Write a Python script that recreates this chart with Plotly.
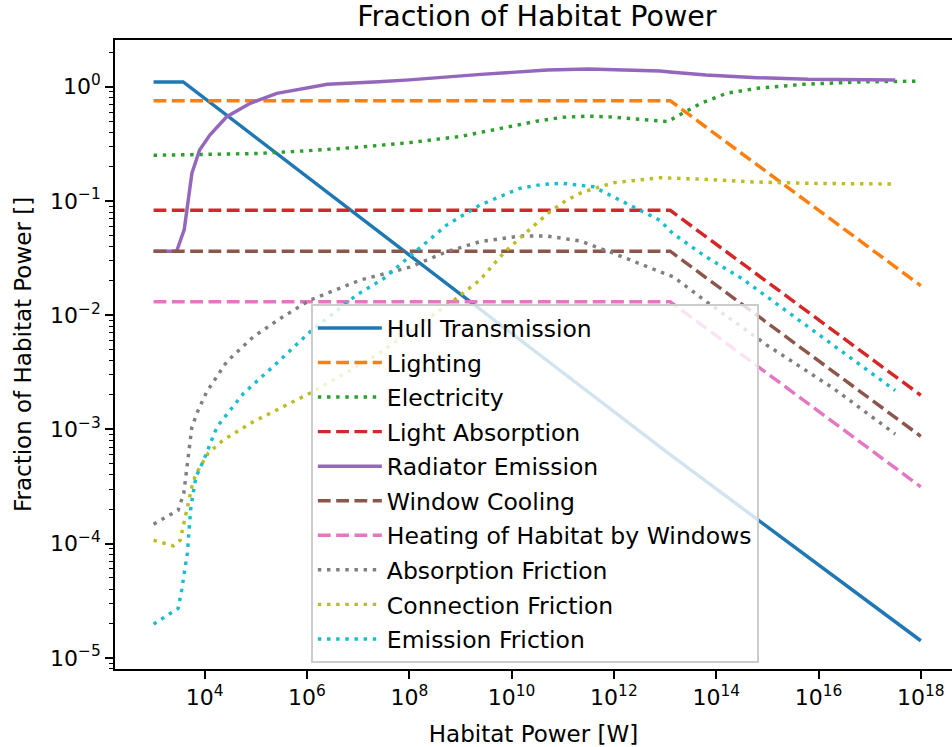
import plotly.graph_objects as go

# ---------------- data ----------------
hull_power = [1e3, 3.16e3, 3.8e3, 1.26e13, 1e18]
hull_frac = [1.10, 1.10, 1.10, 6.0e-4, 1.41e-5]

flat_power = [1e3, 1.26e13, 1e18]
lighting_frac = [0.755, 0.755, 0.0181]
light_abs_frac = [0.0828, 0.0828, 0.00199]
window_cool_frac = [0.0363, 0.0363, 8.7e-4]
heating_frac = [0.0131, 0.0131, 3.14e-4]

elec_power = [1e3, 1e4, 1e5, 1e6, 1e7, 1e8, 3.16e8, 1e9, 3.16e9, 1e10, 3.16e10,
              1e11, 3.16e11, 1e12, 3.16e12, 1.15e13, 1.26e13, 2.51e13, 5.01e13,
              1.58e14, 6.31e14, 5.01e15, 6.31e16, 1e18]
elec_frac = [0.251, 0.254, 0.260, 0.275, 0.295, 0.324, 0.343, 0.367, 0.407, 0.452, 0.50,
             0.540, 0.553, 0.542, 0.521, 0.494, 0.51, 0.604, 0.716,
             0.875, 0.968, 1.05, 1.10, 1.12]

rad_power = [1e3, 2.82e3, 3.98e3, 5.62e3, 7.94e3, 1.26e4, 2.69e4, 7.76e4, 2.57e5, 1e6,
             2.51e6, 2.51e7, 1e8, 2.51e9, 5.01e10, 3.16e11, 7.94e12, 1.41e13, 6.31e13,
             6.31e14, 6.31e15, 3.16e17]
rad_frac = [0.0363, 0.0363, 0.0562, 0.175, 0.279, 0.378, 0.546, 0.716, 0.875, 0.977,
            1.05, 1.107, 1.148, 1.282, 1.40, 1.429, 1.371, 1.337, 1.265,
            1.20, 1.161, 1.146]

abs_fr_power = [1e3, 3.02e3, 3.89e3, 4.79e3, 5.62e3, 7.5e3, 1.1e4, 2.69e4, 8.91e4, 3.16e5,
                1.15e6, 1.1e7, 1.02e8, 5.37e8, 2.4e9, 1.45e10, 4.9e10, 2.19e11, 9.77e11,
                7.94e12, 1.45e13, 6.46e13, 9.77e14, 1.95e16, 3.16e17]
abs_fr_frac = [1.48e-4, 1.96e-4, 2.75e-4, 5.75e-4, 1.054e-3, 1.48e-3, 2.14e-3, 3.91e-3, 6.46e-3, 9.5e-3,
               0.01355, 0.0203, 0.0263, 0.0359, 0.0440, 0.0493, 0.0493, 0.0446, 0.0348,
               0.0240, 0.0217, 0.0131, 5.47e-3, 2.29e-3, 9.1e-4]

con_fr_power = [1e3, 2.45e3, 3.31e3, 3.89e3, 4.79e3, 5.62e3, 6.46e3, 7.5e3, 1.17e4, 2.29e4,
                8.91e4, 3.98e5, 1.32e6, 2.29e7, 1e8, 7.94e8, 2.4e9, 6.92e9, 1.7e10, 5.62e10,
                1.2e11, 2.51e11, 1e12, 7.94e12, 6.31e13, 4.47e14, 5.89e15, 3.16e17]
con_fr_frac = [1.07e-4, 9.55e-5, 1.07e-4, 1.51e-4, 2.19e-4, 3.16e-4, 3.85e-4, 4.41e-4, 6.17e-4, 8.05e-4,
               1.167e-3, 1.633e-3, 2.14e-3, 4.47e-3, 7.16e-3, 0.0138, 0.0203, 0.0348, 0.0504, 0.0804,
               0.1019, 0.120, 0.1445, 0.1596, 0.1545, 0.147, 0.1426, 0.1406]

em_fr_power = [1e3, 3.02e3, 3.55e3, 4.57e3, 5.37e3, 6.76e3, 9.33e3, 1.74e4, 5.75e4, 2.57e5,
               1.15e6, 9.33e6, 3.16e7, 1.2e8, 5.37e8, 2.4e9, 1.45e10, 3.98e10, 1e11, 3.98e11,
               1.78e12, 7.94e12, 1.41e13, 6.31e13, 3.16e14, 1.32e15, 3.16e17]
em_fr_frac = [1.97e-5, 2.71e-5, 3.92e-5, 8.2e-5, 2.10e-4, 3.85e-4, 5.25e-4, 1.054e-3, 2.07e-3, 3.80e-3,
              7.16e-3, 0.0150, 0.0209, 0.0347, 0.0615, 0.092, 0.129, 0.1396, 0.1426, 0.133,
              0.0953, 0.0676, 0.052, 0.0324, 0.021, 0.0131, 2.19e-3]

x_tick_vals = [1e4, 1e6, 1e8, 1e10, 1e12, 1e14, 1e16, 1e18]
x_tick_text = ["10<sup>4</sup>", "10<sup>6</sup>", "10<sup>8</sup>", "10<sup>10</sup>",
               "10<sup>12</sup>", "10<sup>14</sup>", "10<sup>16</sup>", "10<sup>18</sup>"]
y_tick_vals = [1e-5, 1e-4, 1e-3, 1e-2, 1e-1, 1e0]
y_tick_text = ["10<sup>\u22125</sup>", "10<sup>\u22124</sup>", "10<sup>\u22123</sup>",
               "10<sup>\u22122</sup>", "10<sup>\u22121</sup>", "10<sup>0</sup>"]

# ---------------- styling ----------------
FONT = "DejaVu Sans"
LW = 3.45
DASH = "12.8px,5.5px"
DOT = "3.45px,5.7px"

series = [
    ("Hull Transmission", hull_power, hull_frac, "#1f77b4", "solid"),
    ("Lighting", flat_power, lighting_frac, "#ff7f0e", DASH),
    ("Electricity", elec_power, elec_frac, "#2ca02c", DOT),
    ("Light Absorption", flat_power, light_abs_frac, "#d62728", DASH),
    ("Radiator Emission", rad_power, rad_frac, "#9467bd", "solid"),
    ("Window Cooling", flat_power, window_cool_frac, "#8c564b", DASH),
    ("Heating of Habitat by Windows", flat_power, heating_frac, "#e377c2", DASH),
    ("Absorption Friction", abs_fr_power, abs_fr_frac, "#7f7f7f", DOT),
    ("Connection Friction", con_fr_power, con_fr_frac, "#bcbd22", DOT),
    ("Emission Friction", em_fr_power, em_fr_frac, "#17becf", DOT),
]

fig = go.Figure()
for i, (name, xs, ys, color, dash) in enumerate(series):
    fig.add_trace(go.Scatter(
        x=xs, y=ys, mode="lines", name=name, legendgroup=f"g{i}",
        line=dict(color=color, width=LW, dash=dash), hoverinfo="skip",
    ))

minor_y = [m * 10.0 ** e for e in range(-6, 1) for m in range(2, 10)]

W, H = 952, 747
fig.update_layout(
    width=W, height=H,
    margin=dict(l=115, r=0, t=40, b=78, autoexpand=False),
    paper_bgcolor="white", plot_bgcolor="white",
    font=dict(family=FONT, size=22, color="black"),
    title=dict(text="Fraction of Habitat Power", font=dict(size=28.5, family=FONT, color="black"),
               x=0.504, xref="paper", xanchor="center",
               y=1 - 16 / H, yref="container", yanchor="middle"),
    showlegend=True,
    legend=dict(
        x=0.234, y=0.58, xanchor="left", yanchor="top",
        bgcolor="rgba(255,255,255,0.8)", bordercolor="#cccccc", borderwidth=2,
        font=dict(family=FONT, size=23.5, color="black"),
        traceorder="grouped", tracegroupgap=1.0, itemwidth=64,
    ),
    xaxis=dict(
        type="log", range=[2.246, 18.61], automargin=False,
        tickmode="array", tickvals=x_tick_vals, ticktext=x_tick_text,
        ticks="outside", ticklen=8, tickwidth=1.8, tickcolor="black",
        showline=True, linecolor="black", linewidth=1.8, mirror=True,
        showgrid=False, zeroline=False,
        tickfont=dict(size=22, family=FONT, color="black"),
        title=dict(text="Habitat Power [W]", font=dict(size=23, family=FONT, color="black"), standoff=20),
    ),
    yaxis=dict(
        type="log", range=[-5.098, 0.409], automargin=False,
        tickmode="array", tickvals=y_tick_vals, ticktext=y_tick_text,
        ticks="outside", ticklen=8, tickwidth=1.8, tickcolor="black",
        showline=True, linecolor="black", linewidth=1.8, mirror=False,
        showgrid=False, zeroline=False,
        tickfont=dict(size=22, family=FONT, color="black"),
        minor=dict(tickmode="array", tickvals=minor_y, ticks="outside", ticklen=4.6,
                   tickwidth=1.4, tickcolor="black", showgrid=False),
        title=dict(text="Fraction of Habitat Power []", font=dict(size=23, family=FONT, color="black"), standoff=12),
    ),
)

# remove the browser's default 8px body margin so the figure sits at the page origin
fig.write_html("out.html", config={"displayModeBar": False},
               post_script="document.body.style.margin='0px';")
